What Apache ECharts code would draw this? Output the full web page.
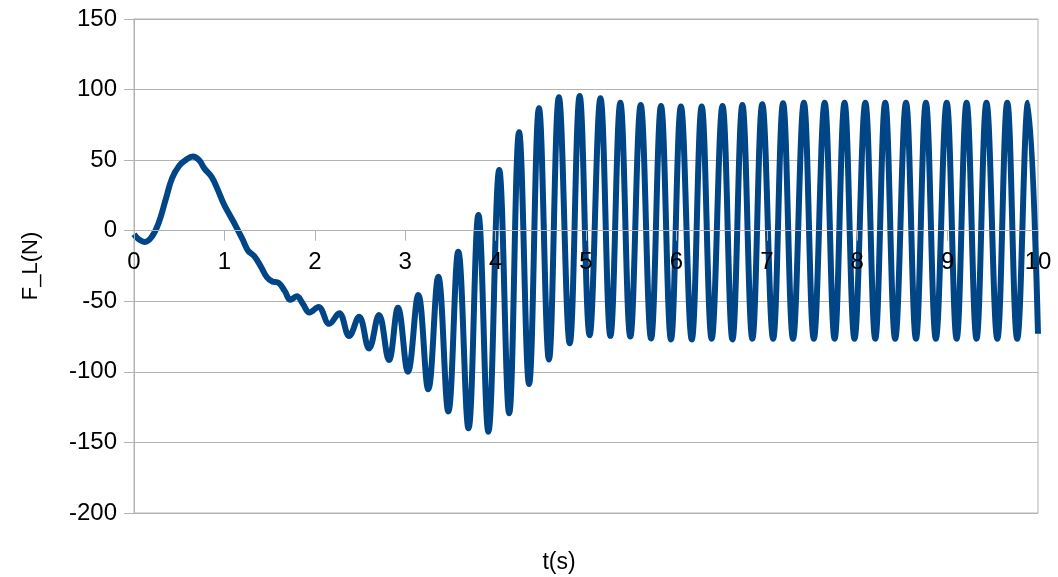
<!DOCTYPE html>
<html>
<head>
<meta charset="utf-8">
<script src="https://cdn.jsdelivr.net/npm/echarts@6/dist/echarts.min.js"></script>
<style>
html,body{margin:0;padding:0;background:#fff;}
#chart{width:1058px;height:577px;}
</style>
</head>
<body>
<div id="chart"></div>
<script>
// time (s)
const timeValues = [
  0, 0.05, 0.12, 0.2, 0.27, 0.35, 0.42, 0.5, 0.58, 0.65, 0.72, 0.78, 0.86, 0.92, 1.0, 1.06, 1.12, 1.2, 1.26, 1.33,
  1.4, 1.47, 1.53, 1.6, 1.67, 1.73, 1.8, 1.87, 1.94, 2.04,
  2.16, 2.27, 2.38, 2.49, 2.60, 2.71, 2.82, 2.92, 3.03, 3.145, 3.255, 3.366, 3.477, 3.587, 3.70, 3.81, 3.92,
  4.04, 4.15, 4.26, 4.37, 4.48, 4.59, 4.70, 4.82, 4.93, 5.04, 5.16, 5.27, 5.38, 5.49, 5.605, 5.72, 5.83, 5.94,
  6.05, 6.17, 6.28, 6.39, 6.51, 6.62, 6.73, 6.84, 6.95, 7.07, 7.18, 7.29, 7.41, 7.52, 7.64, 7.75, 7.86, 7.97,
  8.09, 8.20, 8.31, 8.42, 8.54, 8.65, 8.76, 8.87, 8.99, 9.10, 9.21, 9.32, 9.43, 9.55, 9.66, 9.77, 9.89, 10.0
];
// lift force F_L (N)
const forceValues = [
  -2.5, -6, -8, -4, 5, 22, 37, 46, 50.5, 52.5, 50, 44, 38, 30, 18, 11, 4, -6, -14, -18,
  -25, -33, -36, -37, -43, -49, -46.5, -52, -58, -54,
  -66, -58.5, -74.6, -61, -83.4, -59.7, -91.6, -54.6, -99.9, -45.6, -112.4, -32.6, -128, -14.9, -140, 11.1, -142.4,
  43, -129.4, 69.7, -108.6, 86.7, -91.2, 94.5, -79.8, 95.5, -74, 93.8, -74.5, 90.7, -75, 89, -76.3, 88.4, -77,
  88, -77, 88, -76.5, 88.4, -77, 89, -76.5, 89.6, -76.5, 90.3, -76.5, 90.7, -76.5, 90.7, -76.5, 90.7, -76.5,
  90.7, -76.5, 90.7, -76.5, 90.7, -76.5, 90.7, -76.5, 90.7, -76.5, 90.7, -76.5, 90.7, -76.5, 90.7, -76.5, 90.7, -73
];
const xTicks = [0, 10, 1];      // min, max, interval
const yTicks = [-200, 150, 50]; // min, max, interval

const seriesData = timeValues.map((t, i) => [t, forceValues[i]]);
const FONT = '"Liberation Sans", Arial, sans-serif';

const chart = echarts.init(document.getElementById('chart'), null, {renderer: 'canvas'});
const option = {
  animation: false,
  backgroundColor: '#ffffff',
  grid: {left: 134, right: 20, top: 19, bottom: 64, show: true, borderColor: '#b3b3b3', borderWidth: 1, backgroundColor: 'transparent'},
  xAxis: {
    type: 'value', min: xTicks[0], max: xTicks[1], interval: xTicks[2],
    offset: 0, z: 10,
    axisLine: {show: true, onZero: false, lineStyle: {color: '#b3b3b3', width: 1}},
    axisTick: {show: true, length: 10, lineStyle: {color: '#b3b3b3'}},
    axisLabel: {color: '#000', fontSize: 24, fontFamily: FONT, margin: 20, showMinLabel: true, showMaxLabel: true},
    splitLine: {show: false}
  },
  yAxis: {
    type: 'value', min: yTicks[0], max: yTicks[1], interval: yTicks[2],
    name: 'F_L(N)', nameLocation: 'middle', nameGap: 92, nameRotate: 90,
    nameTextStyle: {color: '#000', fontSize: 22, fontFamily: FONT},
    axisLine: {show: true, lineStyle: {color: '#b3b3b3', width: 1}},
    axisTick: {show: true, length: 10, lineStyle: {color: '#b3b3b3'}},
    axisLabel: {color: '#000', fontSize: 24, fontFamily: FONT, margin: 17},
    splitLine: {show: true, lineStyle: {color: '#b3b3b3', width: 1}}
  },
  graphic: [{
    type: 'text', x: 559, y: 563,
    style: {text: 't(s)', fill: '#000', font: '23px ' + FONT, textAlign: 'center', textVerticalAlign: 'middle'}
  }],
  series: [{
    type: 'line', data: seriesData, showSymbol: false, smooth: 0.4, z: 2,
    lineStyle: {color: '#004586', width: 6},
    itemStyle: {color: '#004586'}
  }]
};
chart.setOption(option);
// move the x axis (line, ticks, labels) up to the y = 0 line, using the library's own scale
const zeroY = chart.convertToPixel({yAxisIndex: 0}, 0);
const bottomY = chart.convertToPixel({yAxisIndex: 0}, yTicks[0]);
chart.setOption({xAxis: {offset: -(bottomY - zeroY)}});
</script>
</body>
</html>
